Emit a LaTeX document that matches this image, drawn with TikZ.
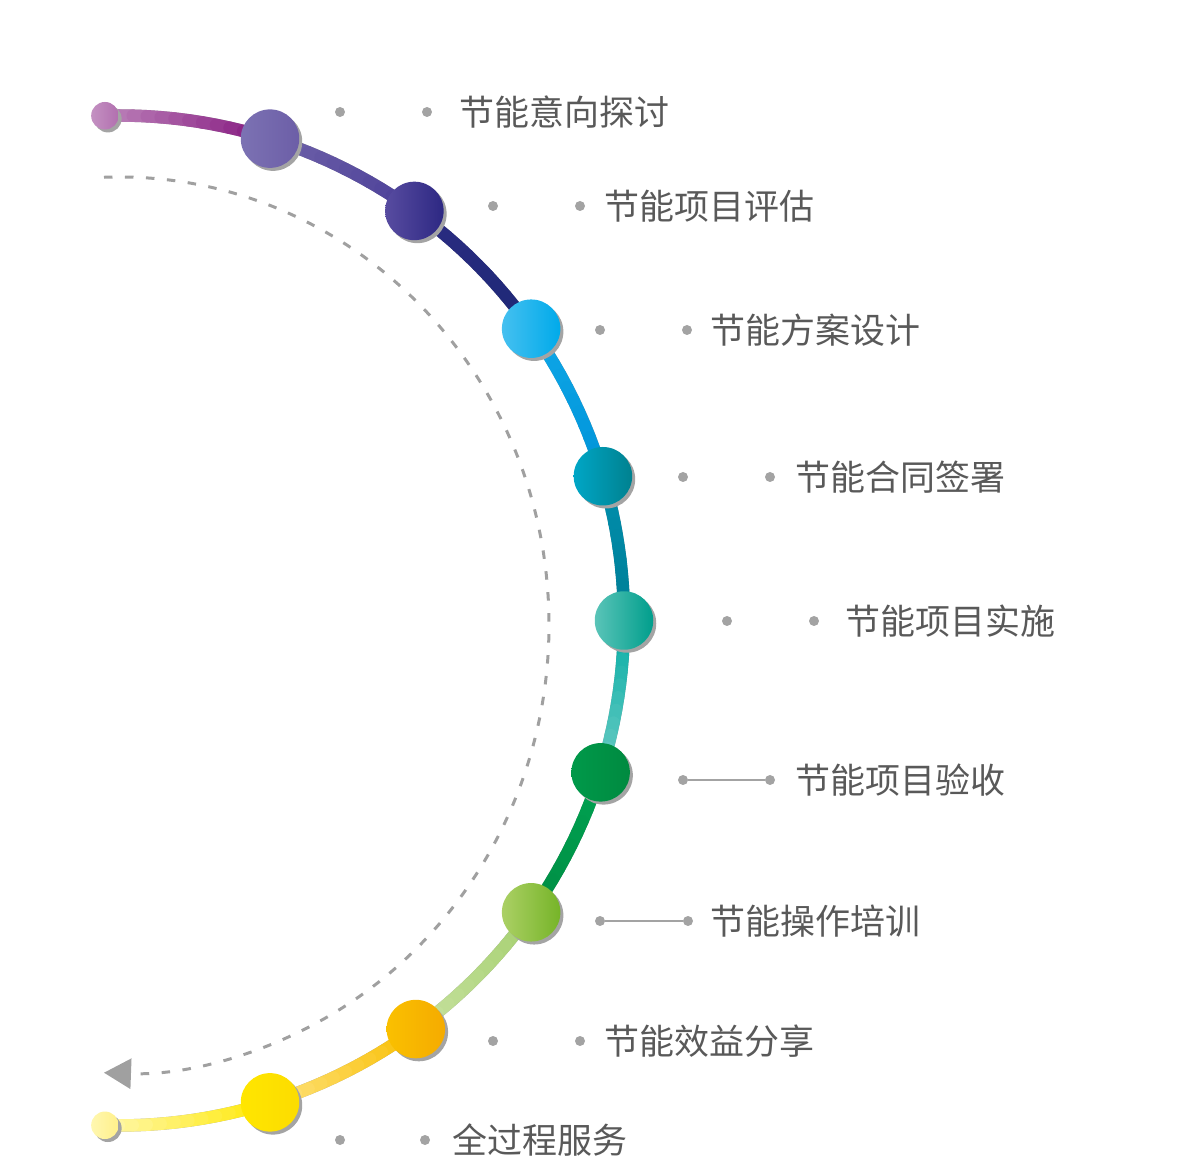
\documentclass[tikz,border=0pt]{standalone}
\usepackage{fontspec}
\setmainfont{Noto Sans CJK SC}
\usetikzlibrary{positioning, arrows.meta, shadows}

\definecolor{shadowgray}{HTML}{A4A4A4}
\definecolor{dotgray}{HTML}{A3A3A3}
\definecolor{textgray}{HTML}{595959}
\definecolor{dashgray}{HTML}{A0A0A0}
% track colours (start / end of each piece)
\definecolor{c0a}{HTML}{BD85BB}\definecolor{c0b}{HTML}{85187F}
\definecolor{c1a}{HTML}{7164AA}\definecolor{c1b}{HTML}{4B3F98}
\definecolor{c2a}{HTML}{2C2C82}\definecolor{c2b}{HTML}{1E2877}
\definecolor{c3a}{HTML}{10A8E8}\definecolor{c3b}{HTML}{0094D9}
\definecolor{c4a}{HTML}{0090B0}\definecolor{c4b}{HTML}{007E96}
\definecolor{c5a}{HTML}{00ACA4}\definecolor{c5b}{HTML}{6ACBC3}
\definecolor{c6a}{HTML}{00A352}\definecolor{c6b}{HTML}{008E44}
\definecolor{c7a}{HTML}{A4CF6E}\definecolor{c7b}{HTML}{C6E19E}
\definecolor{c8a}{HTML}{F9BE00}\definecolor{c8b}{HTML}{FEE27A}
\definecolor{c9a}{HTML}{FFE800}\definecolor{c9b}{HTML}{FFF7A8}

\tikzset{
  stage/.style={circle, minimum size=1.17cm, inner sep=0pt,
    drop shadow={shadow xshift=0.06cm, shadow yshift=-0.06cm, fill=shadowgray, opacity=1}},
  endstage/.style={stage, minimum size=0.55cm},
  track/.style={line width=0.25cm, line cap=round},
  trackshadow/.style={line width=0.25cm, draw=shadowgray},
  tick/.style={circle, fill=dotgray, minimum size=0.2cm, inner sep=0pt},
  tickline/.style={draw=dotgray, line width=0.8pt},
  steptext/.style={anchor=west, inner sep=0pt, text=textgray, font=\fontsize{19.9}{22}\selectfont},
  backline/.style={draw=dashgray, line width=1.7pt, dash pattern=on 0.17cm off 0.25cm},
}

\begin{document}
\begin{tikzpicture}[x=0.02cm, y=0.02cm]
  \useasboundingbox (0,0) rectangle (1200,1170);
  \coordinate (c) at (119,549.5);
  \coordinate (cb) at (119,545);

  % dashed return arc
  \draw[backline, -{Triangle[length=0.54cm, width=0.6cm]}]
    ([shift={(92:430 and 448)}]cb) arc[start angle=92, end angle=-92, x radius=430, y radius=448];

  % track shadow
  \draw[trackshadow, shift={(2.5,-3)}]
    ([shift={(91.6:505)}]c) arc[start angle=91.6, end angle=-91.6, radius=505];

  % coloured track
  \foreach \a/\b/\ca/\cb in {91.6/72.6/c0a/c0b, 72.6/54.2/c1a/c1b, 54.2/35.3/c2a/c2b,
      35.3/16.6/c3a/c3b, 16.6/0/c4a/c4b, 0/-17.5/c5a/c5b, -17.5/-35.3/c6a/c6b,
      -35.3/-54/c7a/c7b, -54/-72.6/c8a/c8b, -72.6/-91.6/c9a/c9b}{
    \foreach \k in {1,...,12}{
      \pgfmathsetmacro{\s}{\a+(\b-\a)*(\k-1)/12}
      \pgfmathsetmacro{\e}{\a+(\b-\a)*\k/12}
      \pgfmathtruncatemacro{\p}{(\k-0.5)/12*100}
      \draw[track, draw=\cb!\p!\ca] ([shift={(\s:505)}]c) arc[start angle=\s, end angle=\e, radius=505];
    }
  }

  % Nodes on the track
  \node[endstage, left color=c0a!90!white, right color=c0a!80!c0b] (s0) at ([shift={(91.6:505)}]c) {};
  \node[stage, left color={rgb,255:red,124;green,114;blue,179}, right color={rgb,255:red,108;green,94;blue,167}] (s1) at ([shift={(72.6:505)}]c) {};
  \node[stage, left color={rgb,255:red,88;green,76;blue,160}, right color={rgb,255:red,45;green,40;blue,131}] (s2) at ([shift={(54.2:505)}]c) {};
  \node[stage, left color={rgb,255:red,69;green,192;blue,240}, right color={rgb,255:red,0;green,170;blue,234}] (s3) at ([shift={(35.3:505)}]c) {};
  \node[stage, left color={rgb,255:red,0;green,166;blue,198}, right color={rgb,255:red,0;green,129;blue,143}] (s4) at ([shift={(16.6:505)}]c) {};
  \node[stage, left color={rgb,255:red,90;green,196;blue,184}, middle color={rgb,255:red,0;green,178;blue,166}, right color={rgb,255:red,0;green,158;blue,140}] (s5) at ([shift={(0:505)}]c) {};
  \node[stage, left color={rgb,255:red,0;green,153;blue,74}, right color={rgb,255:red,0;green,138;blue,64}] (s6) at ([shift={(-17.5:505)}]c) {};
  \node[stage, left color={rgb,255:red,171;green,208;blue,101}, right color={rgb,255:red,118;green,180;blue,40}] (s7) at ([shift={(-35.3:505)}]c) {};
  \node[stage, left color={rgb,255:red,250;green,192;blue,0}, right color={rgb,255:red,245;green,171;blue,0}] (s8) at ([shift={(-54:505)}]c) {};
  \node[stage, left color={rgb,255:red,255;green,230;blue,0}, right color={rgb,255:red,252;green,220;blue,0}] (s9) at ([shift={(-72.6:505)}]c) {};
  \node[endstage, left color={rgb,255:red,255;green,247;blue,176}, right color={rgb,255:red,255;green,240;blue,138}] (s10) at ([shift={(-91.6:505)}]c) {};

  % Labels
  \node[tick] (l1a) at (340,1058) {};
  \node[tick] (l1b) at (427,1058) {};
  \node[steptext] (t1) at (459,1058) {节能意向探讨};

  \node[tick] (l2a) at (493,964) {};
  \node[tick] (l2b) at (580,964) {};
  \node[steptext] (t2) at (604,964) {节能项目评估};

  \node[tick] (l3a) at (600,840) {};
  \node[tick] (l3b) at (687,840) {};
  \node[steptext] (t3) at (710,840) {节能方案设计};

  \node[tick] (l4a) at (683,693) {};
  \node[tick] (l4b) at (770,693) {};
  \node[steptext] (t4) at (795,693) {节能合同签署};

  \node[tick] (l5a) at (727,549) {};
  \node[tick] (l5b) at (814,549) {};
  \node[steptext] (t5) at (845,549) {节能项目实施};

  \node[tick] (l6a) at (683,390) {};
  \node[tick] (l6b) at (770,390) {};
  \node[steptext] (t6) at (795,390) {节能项目验收};
  \draw[tickline] (l6a) -- (l6b);

  \node[tick] (l7a) at (600,249) {};
  \node[tick] (l7b) at (688,249) {};
  \node[steptext] (t7) at (710,249) {节能操作培训};
  \draw[tickline] (l7a) -- (l7b);

  \node[tick] (l8a) at (493,129) {};
  \node[tick] (l8b) at (580,129) {};
  \node[steptext] (t8) at (604,129) {节能效益分享};

  \node[tick] (l9a) at (340,30) {};
  \node[tick] (l9b) at (425,30) {};
  \node[steptext] (t9) at (452,30) {全过程服务};

\end{tikzpicture}
\end{document}
